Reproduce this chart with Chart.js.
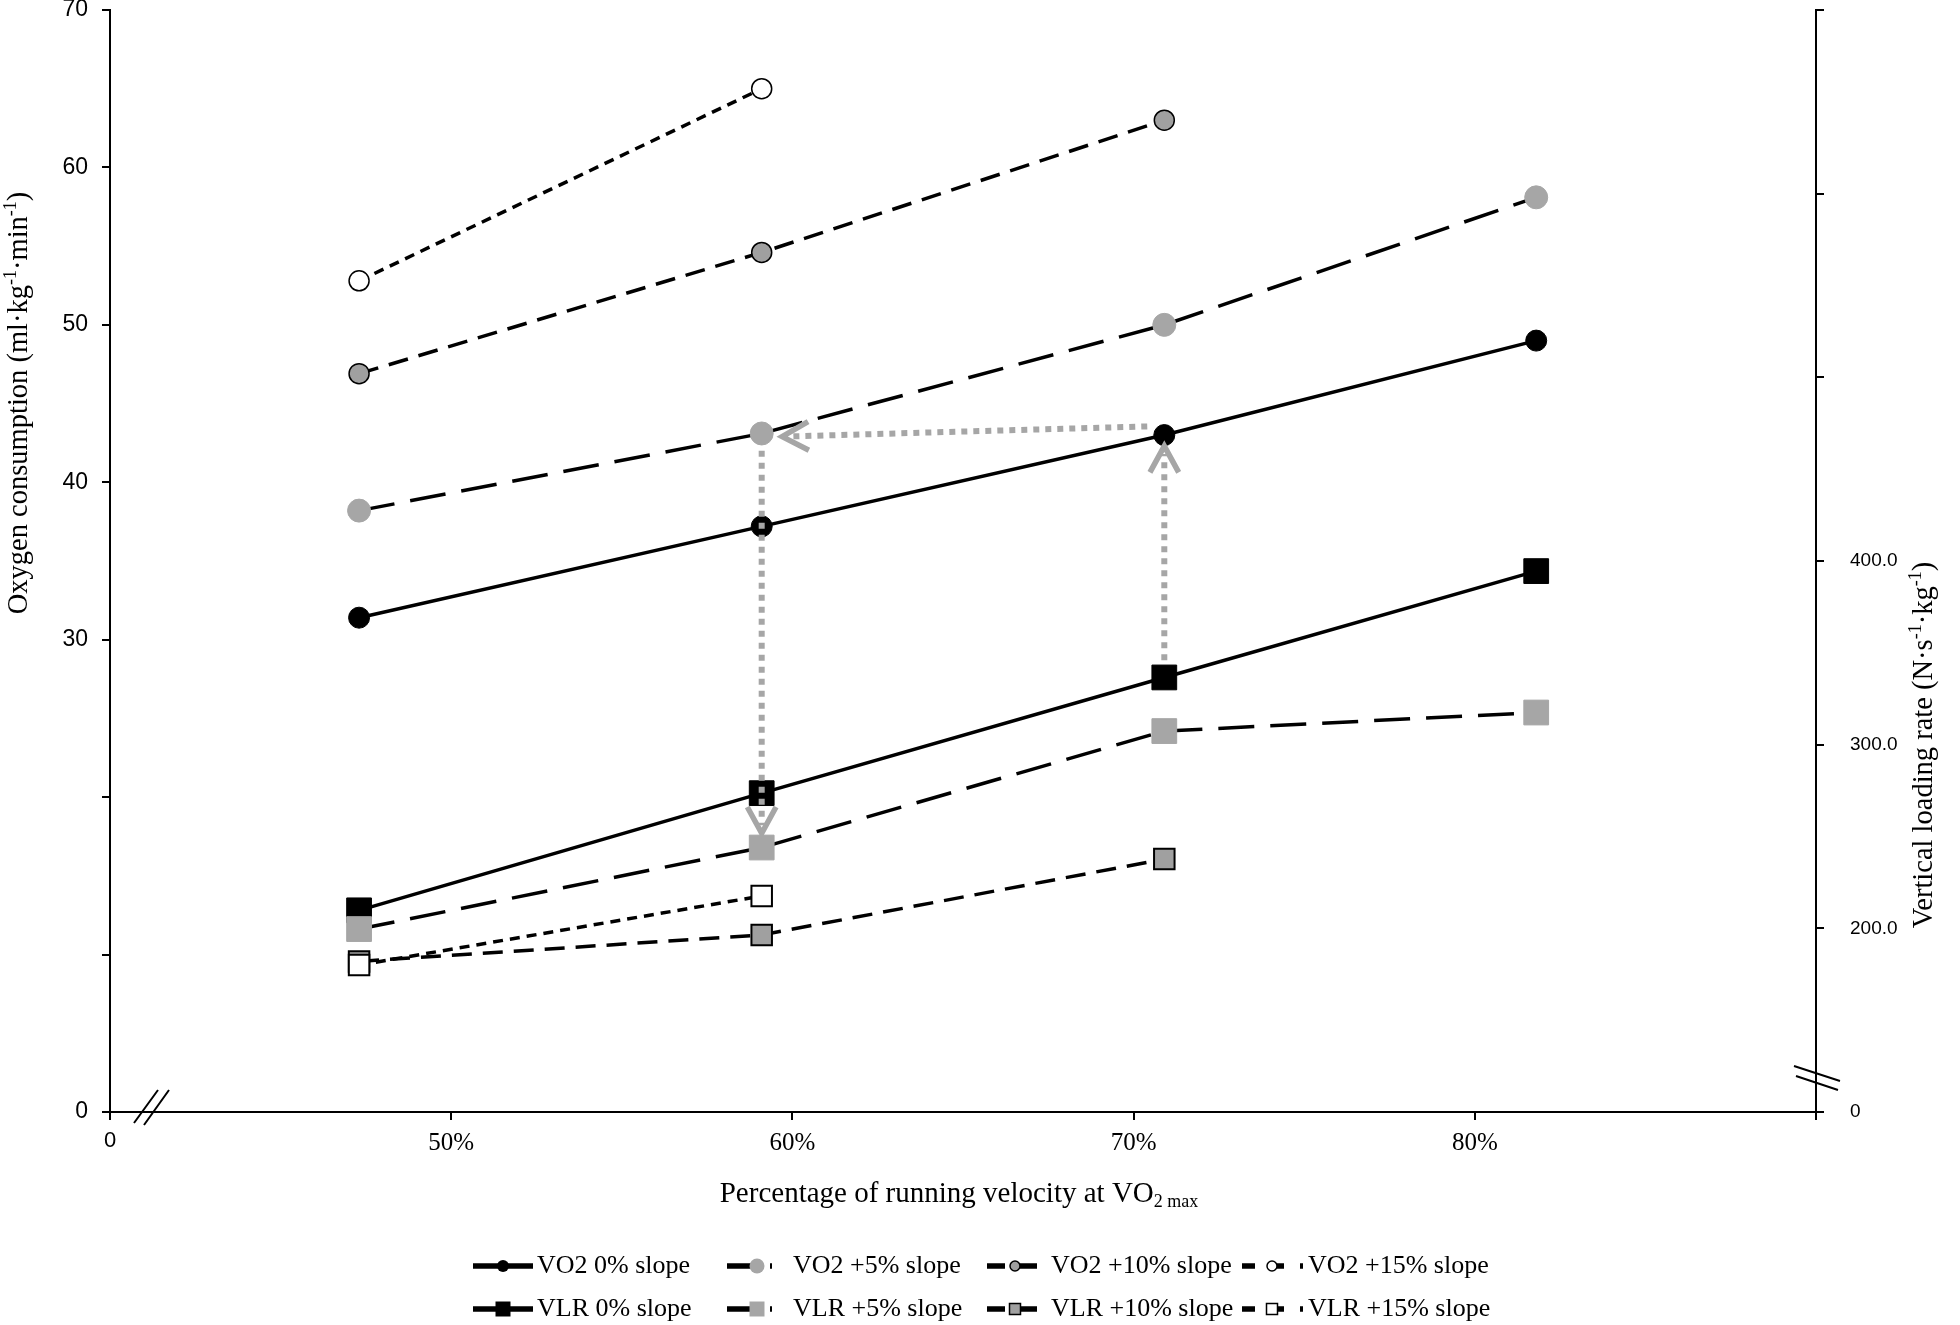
<!DOCTYPE html>
<html>
<head>
<meta charset="utf-8">
<script src="https://cdn.jsdelivr.net/npm/chart.js@4.4.0/dist/chart.umd.min.js"></script>
<style>
    html, body { margin: 0; padding: 0; background: #fff; }
    #wrap { width: 1960px; height: 1325px; }
</style>
</head>
<body>
<div id="wrap"><canvas id="slopeChart" width="1960" height="1325"></canvas></div>
<script>
// ============================================
// Data
// ============================================
const velocityPct = [47.3, 59.1, 70.9, 81.8];

// oxygen consumption, ml/kg/min (left axis)
const vo2Slope0 = [31.4, 37.2, 43.0, 49.0];
const vo2Slope5 = [38.2, 43.1, 50.0, 58.1];
const vo2Slope10 = [46.9, 54.6, 63.0];
const vo2Slope15 = [52.8, 65.0];

// vertical loading rate, N/s/kg (right axis)
const vlrSlope0 = [209.8, 273.6, 336.6, 394.5];
const vlrSlope5 = [199.6, 244.0, 307.4, 317.5];
const vlrSlope10 = [182.0, 196.4, 237.7];
const vlrSlope15 = [180.0, 217.6];

// grey guide arrows: [from, to] as [velocity %, left-axis value]
const arrowVo2ToVlr = [[59.1, 42.0], [59.1, 17.7]];
const arrowVlrToVo2 = [[70.9, 28.7], [70.9, 42.3]];
const arrowAcross = [[70.4, 43.55], [59.7, 42.9]];

// tick labels
const xTickValues = [40, 50, 60, 70, 80, 90];
const xTickLabels = ['0', '50%', '60%', '70%', '80%', ''];
const vo2TickValues = [0, 10, 20, 30, 40, 50, 60, 70];
const vo2TickLabels = ['0', '', '', '30', '40', '50', '60', '70'];
const vlrTickValues = [100, 200, 300, 400, 500, 600, 700];
const vlrTickLabels = ['0', '200.0', '300.0', '400.0', '', '', ''];

const SERIF = '"Liberation Serif", "Times New Roman", serif';
const SANS = '"Liberation Sans", Arial, sans-serif';
const GREY = '#a6a6a6';

function toPoints(values) {
    return values.map((v, i) => ({ x: velocityPct[i], y: v }));
}

function labelFor(values, labels) {
    return v => {
        const i = values.indexOf(Math.round(v));
        return i >= 0 ? labels[i] : '';
    };
}

// ============================================
// Series
// ============================================
function series(label, values, axis, dash, marker) {
    return {
        label: label,
        data: toPoints(values),
        yAxisID: axis,
        borderColor: '#000',
        borderWidth: 3.5,
        borderDash: dash,
        fill: false,
        tension: 0,
        pointStyle: marker.style,
        pointRadius: marker.radius,
        pointHoverRadius: marker.radius,
        pointBackgroundColor: marker.fill,
        pointBorderColor: marker.stroke,
        pointBorderWidth: marker.border,
        legendSize: marker.legend
    };
}

const datasets = [
    series('VO2 0% slope', vo2Slope0, 'y', [],
        { style: 'circle', radius: 10.5, fill: '#000', stroke: '#000', border: 1, legend: 6 }),
    series('VO2 +5% slope', vo2Slope5, 'y', [36, 16],
        { style: 'circle', radius: 11.5, fill: GREY, stroke: GREY, border: 1, legend: 7.5 }),
    series('VO2 +10% slope', vo2Slope10, 'y', [20, 11],
        { style: 'circle', radius: 10, fill: '#a0a0a0', stroke: '#000', border: 1.5, legend: 5 }),
    series('VO2 +15% slope', vo2Slope15, 'y', [10, 7],
        { style: 'circle', radius: 10, fill: '#fff', stroke: '#000', border: 1.5, legend: 5 }),
    series('VLR 0% slope', vlrSlope0, 'y2', [],
        { style: 'rect', radius: 17.5, fill: '#000', stroke: '#000', border: 1, legend: 7.5 }),
    series('VLR +5% slope', vlrSlope5, 'y2', [36, 16],
        { style: 'rect', radius: 17.5, fill: GREY, stroke: GREY, border: 1, legend: 7.5 }),
    series('VLR +10% slope', vlrSlope10, 'y2', [20, 11],
        { style: 'rect', radius: 14.5, fill: '#a0a0a0', stroke: '#000', border: 2, legend: 5.5 }),
    series('VLR +15% slope', vlrSlope15, 'y2', [10, 7],
        { style: 'rect', radius: 14.5, fill: '#fff', stroke: '#000', border: 2, legend: 5.5 })
];
// later series sit on top
datasets.forEach((d, i) => { d.order = datasets.length - i; });

// ============================================
// Drawing helpers
// ============================================
function drawRich(ctx, parts, cx, cy, size) {
    const small = Math.round(size * 0.62);
    const fontOf = p => (p[1] === 'n' ? size : small) + 'px ' + SERIF;
    let total = 0;
    const widths = parts.map(p => {
        ctx.font = fontOf(p);
        const w = ctx.measureText(p[0]).width;
        total += w;
        return w;
    });
    let x = cx - total / 2;
    ctx.textAlign = 'left';
    ctx.textBaseline = 'middle';
    ctx.fillStyle = '#000';
    parts.forEach((p, i) => {
        ctx.font = fontOf(p);
        const dy = p[1] === 'sup' ? -size * 0.32 : p[1] === 'sub' ? size * 0.28 : 0;
        ctx.fillText(p[0], x, cy + dy);
        x += widths[i];
    });
}

function drawMarker(ctx, style, x, y, r, fill, stroke, bw) {
    ctx.beginPath();
    if (style === 'rect') {
        ctx.rect(x - r, y - r, 2 * r, 2 * r);
    } else {
        ctx.arc(x, y, r, 0, Math.PI * 2);
    }
    ctx.fillStyle = fill;
    ctx.fill();
    if (bw) {
        ctx.lineWidth = bw;
        ctx.strokeStyle = stroke;
        ctx.stroke();
    }
}

function drawArrow(ctx, xs, ys, arrow) {
    const x0 = xs.getPixelForValue(arrow[0][0]);
    const y0 = ys.getPixelForValue(arrow[0][1]);
    const x1 = xs.getPixelForValue(arrow[1][0]);
    const y1 = ys.getPixelForValue(arrow[1][1]);
    const ang = Math.atan2(y1 - y0, x1 - x0);
    ctx.save();
    ctx.strokeStyle = GREY;
    ctx.lineWidth = 6;
    ctx.setLineDash([6, 6]);
    ctx.beginPath();
    ctx.moveTo(x0, y0);
    ctx.lineTo(x1 - 8 * Math.cos(ang), y1 - 8 * Math.sin(ang));
    ctx.stroke();
    ctx.setLineDash([]);
    ctx.lineWidth = 5.5;
    ctx.lineJoin = 'miter';
    ctx.beginPath();
    ctx.moveTo(x1 - 30 * Math.cos(ang - 0.5), y1 - 30 * Math.sin(ang - 0.5));
    ctx.lineTo(x1, y1);
    ctx.lineTo(x1 - 30 * Math.cos(ang + 0.5), y1 - 30 * Math.sin(ang + 0.5));
    ctx.stroke();
    ctx.restore();
}

// ============================================
// Plugin: arrows, axis breaks, titles, legend
// ============================================
const figureDecor = {
    id: 'figureDecor',
    afterDatasetsDraw(chart) {
        const ctx = chart.ctx;
        [arrowVo2ToVlr, arrowVlrToVo2, arrowAcross].forEach(a =>
            drawArrow(ctx, chart.scales.x, chart.scales.y, a));
    },
    afterDraw(chart) {
        const ctx = chart.ctx;
        const area = chart.chartArea;
        ctx.save();

        // axis break marks
        ctx.strokeStyle = '#000';
        ctx.lineWidth = 2;
        ctx.beginPath();
        ctx.moveTo(area.left + 24, area.bottom + 11);
        ctx.lineTo(area.left + 48, area.bottom - 22);
        ctx.moveTo(area.left + 34, area.bottom + 13);
        ctx.lineTo(area.left + 59, area.bottom - 22);
        ctx.moveTo(area.right - 22, area.bottom - 46);
        ctx.lineTo(area.right + 24, area.bottom - 31);
        ctx.moveTo(area.right - 20, area.bottom - 36);
        ctx.lineTo(area.right + 22, area.bottom - 22);
        ctx.stroke();

        // axis titles
        ctx.save();
        ctx.translate(20, 403);
        ctx.rotate(-Math.PI / 2);
        drawRich(ctx, [['Oxygen consumption (ml·kg', 'n'], ['-1', 'sup'],
            ['·min', 'n'], ['-1', 'sup'], [')', 'n']], 0, 0, 28.5);
        ctx.restore();

        ctx.save();
        ctx.translate(1925, 745);
        ctx.rotate(-Math.PI / 2);
        drawRich(ctx, [['Vertical loading rate (N·s', 'n'], ['-1', 'sup'],
            ['·kg', 'n'], ['-1', 'sup'], [')', 'n']], 0, 0, 28.5);
        ctx.restore();

        drawRich(ctx, [['Percentage of running velocity at VO', 'n'], ['2 max', 'sub']],
            959, 1194, 29);

        // legend: 4 columns x 2 rows
        const cols = [
            { from: 473, to: 533, mark: 503, text: 537 },
            { from: 727, to: 772, mark: 757, text: 793 },
            { from: 987, to: 1047, mark: 1015, text: 1051 },
            { from: 1242, to: 1303, mark: 1272, text: 1308 }
        ];
        const rows = [1266, 1309];
        const legendDash = [[], [24, 19], [18, 14], [13, 16]];
        chart.data.datasets.forEach((ds, i) => {
            const c = cols[i % 4];
            const y = rows[Math.floor(i / 4)];
            ctx.strokeStyle = '#000';
            ctx.lineWidth = 5.5;
            ctx.setLineDash(legendDash[i % 4]);
            ctx.beginPath();
            ctx.moveTo(c.from, y);
            ctx.lineTo(c.to, y);
            ctx.stroke();
            ctx.setLineDash([]);
            drawMarker(ctx, ds.pointStyle, c.mark, y, ds.legendSize,
                ds.pointBackgroundColor, ds.pointBorderColor,
                ds.pointBorderColor === '#000' && ds.pointBackgroundColor !== '#000' ? 1.5 : 0);
            ctx.font = '26px ' + SERIF;
            ctx.fillStyle = '#000';
            ctx.textAlign = 'left';
            ctx.textBaseline = 'middle';
            ctx.fillText(ds.label, c.text, y);
        });
        ctx.restore();
    }
};

// ============================================
// Chart
// ============================================
const axisGrid = {
    drawOnChartArea: false,
    drawTicks: true,
    tickLength: 8,
    color: '#000',
    lineWidth: 2
};
const axisBorder = { display: true, color: '#000', width: 2 };

new Chart(document.getElementById('slopeChart').getContext('2d'), {
    type: 'line',
    data: { datasets: datasets },
    options: {
        responsive: false,
        animation: false,
        devicePixelRatio: 1,
        layout: { autoPadding: false, padding: { top: 10, left: 0, right: 0, bottom: 0 } },
        plugins: {
            legend: { display: false },
            tooltip: { enabled: false }
        },
        scales: {
            x: {
                type: 'linear',
                min: 40,
                max: 90,
                grid: axisGrid,
                border: axisBorder,
                ticks: {
                    stepSize: 10,
                    autoSkip: false,
                    maxRotation: 0,
                    padding: 8,
                    color: '#000',
                    font: c => (c.tick && c.tick.value === 40)
                        ? { family: SANS, size: 22 }
                        : { family: SERIF, size: 25 },
                    callback: labelFor(xTickValues, xTickLabels)
                },
                afterFit(scale) {
                    scale.height = 213;
                    scale.paddingLeft = 0;
                    scale.paddingRight = 0;
                }
            },
            y: {
                position: 'left',
                min: 0,
                max: 70,
                grid: axisGrid,
                border: axisBorder,
                ticks: {
                    stepSize: 10,
                    autoSkip: false,
                    padding: 14,
                    color: '#000',
                    font: { family: SANS, size: 23 },
                    callback: labelFor(vo2TickValues, vo2TickLabels)
                },
                afterFit(scale) {
                    scale.width = 110;
                    scale.paddingTop = 0;
                    scale.paddingBottom = 0;
                }
            },
            y2: {
                position: 'right',
                min: 100,
                max: 700,
                grid: axisGrid,
                border: axisBorder,
                ticks: {
                    stepSize: 100,
                    autoSkip: false,
                    padding: 26,
                    color: '#000',
                    font: { family: SANS, size: 19 },
                    callback: labelFor(vlrTickValues, vlrTickLabels)
                },
                afterFit(scale) {
                    scale.width = 144;
                    scale.paddingTop = 0;
                    scale.paddingBottom = 0;
                }
            }
        }
    },
    plugins: [figureDecor]
});
</script>
</body>
</html>
